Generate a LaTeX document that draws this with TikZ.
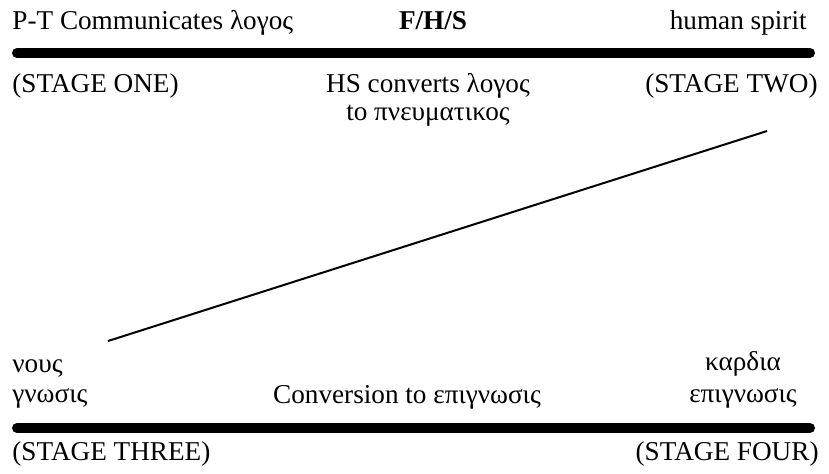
\documentclass[tikz,border=0pt]{standalone}
\usepackage{fontspec}
\setmainfont{Liberation Serif}
\begin{document}
\begin{tikzpicture}[x=0.5pt,y=-0.5pt,
  lbl/.style={inner sep=0pt, font=\fontsize{13.6pt}{16pt}\selectfont},
  bar/.style={line width=5pt, line cap=round},
  diag/.style={line width=1pt}]
\useasboundingbox (0,0) rectangle (829,473);
% top row
\node[lbl, anchor=base west] (pt) at (12,29) {P-T Communicates λογος};
\node[lbl, anchor=base, font=\fontsize{13.6pt}{16pt}\selectfont\bfseries] (fhs) at (433,29) {F/H/S};
\node[lbl, anchor=base east] (hsp) at (807,29) {human spirit};
% top bar
\coordinate (tb1) at (17,53);
\coordinate (tb2) at (810,53);
\draw[bar] (tb1) -- (tb2);
% second row
\node[lbl, anchor=base west] (s1) at (12,92) {(STAGE ONE)};
\node[lbl, anchor=base] (hs1) at (428,92) {HS converts λογος};
\node[lbl, anchor=base] (hs2) at (428,120) {to πνευματικος};
\node[lbl, anchor=base east] (s2) at (818,92) {(STAGE TWO)};
% diagonal
\coordinate (da) at (108,341);
\coordinate (db) at (767,131);
\draw[diag] (da) -- (db);
% lower labels
\node[lbl, anchor=base west] (nous) at (12,372) {νους};
\node[lbl, anchor=base west] (gno) at (12,402) {γνωσις};
\node[lbl, anchor=base] (conv) at (407,403) {Conversion to επιγνωσις};
\node[lbl, anchor=base] (kar) at (743,370) {καρδια};
\node[lbl, anchor=base] (epi) at (743,402) {επιγνωσις};
% bottom bar
\coordinate (bb1) at (17,428);
\coordinate (bb2) at (810,428);
\draw[bar] (bb1) -- (bb2);
% bottom row
\node[lbl, anchor=base west] (s3) at (12,460) {(STAGE THREE)};
\node[lbl, anchor=base east] (s4) at (819,460) {(STAGE FOUR)};
\end{tikzpicture}
\end{document}
